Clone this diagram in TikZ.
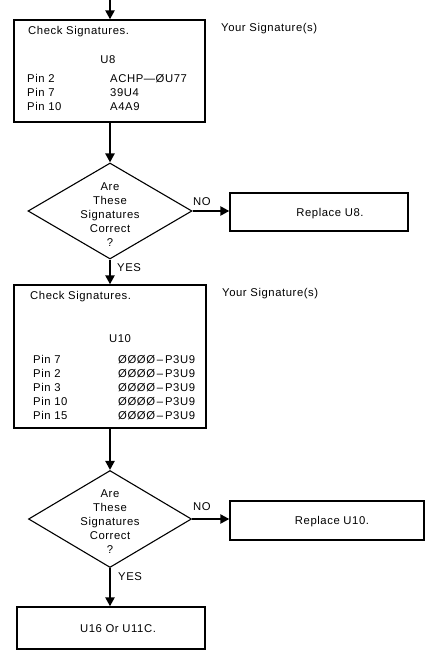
\documentclass[tikz,border=0pt]{standalone}
\usepackage{fontspec}
\setmainfont{Liberation Sans}[LetterSpace=5]
\usetikzlibrary{shapes.geometric,arrows.meta}
\begin{document}
\begin{tikzpicture}[x=1pt,y=-1pt,
  every node/.style={font=\fontsize{11.3}{14}\selectfont, inner sep=0pt},
  boxnode/.style={draw, line width=1.3pt, rectangle},
  decision/.style={draw, line width=1.1pt, shape=diamond, inner sep=0pt},
  txt/.style={anchor=base west},
  ctxt/.style={anchor=base},
  flow/.style={line width=2.2pt, -{Triangle[width=9pt,length=9pt]}},
  dtext/.style={align=center, font=\fontsize{11.3}{14}\selectfont}
]
\useasboundingbox (0,0) rectangle (441,656);

% Box 1
\node[boxnode, minimum width=191pt, minimum height=102pt] (b1) at (109.5,71) {};
\node[txt] (b1t) at (28,34) {Check Signatures.};
\node[ctxt] (b1u) at (108,63) {U8};
\node[txt] (b1p1) at (27,82) {Pin 2};
\node[txt] (b1p2) at (27,96) {Pin 7};
\node[txt] (b1p3) at (27,110) {Pin 10};
\node[txt] (b1v1) at (110,82) {ACHP\textemdash ØU77};
\node[txt] (b1v2) at (110,96) {39U4};
\node[txt] (b1v3) at (110,110) {A4A9};
\node[txt] (ys1) at (221,31) {Your Signature(s)};

\coordinate (top) at (110,0);
\draw[flow] (top) -- (b1.north -| top);

% Diamond 1
\node[decision, minimum width=164pt, minimum height=96pt] (d1) at (110,211) {};
\node[dtext] (d1t) at (110,215) {Are\\These\\Signatures\\Correct\\?};
\draw[flow] (b1.south -| d1.north) -- (d1.north);

% Replace U8
\node[boxnode, minimum width=178pt, minimum height=38pt] (r1) at (319,212) {};
\node[ctxt] (r1t) at (330,216) {Replace U8.};
\draw[flow] (d1.east) -- (d1.east -| r1.west);
\node[txt] (no1) at (193,205) {NO};

% Box 2
\node[boxnode, minimum width=192pt, minimum height=143pt] (b2) at (110,356.5) {};
\draw[flow] (d1.south) -- (b2.north -| d1.south);
\node[txt] (yes1) at (117,271) {YES};
\node[txt] (b2t) at (30,299) {Check Signatures.};
\node[ctxt] (b2u) at (120,342) {U10};
\node[txt] (b2p1) at (33,363) {Pin 7};
\node[txt] (b2p2) at (33,377) {Pin 2};
\node[txt] (b2p3) at (33,391) {Pin 3};
\node[txt] (b2p4) at (33,405) {Pin 10};
\node[txt] (b2p5) at (33,419) {Pin 15};
\node[txt] (b2v1) at (118,363) {ØØØØ\,\textendash\,P3U9};
\node[txt] (b2v2) at (118,377) {ØØØØ\,\textendash\,P3U9};
\node[txt] (b2v3) at (118,391) {ØØØØ\,\textendash\,P3U9};
\node[txt] (b2v4) at (118,405) {ØØØØ\,\textendash\,P3U9};
\node[txt] (b2v5) at (118,419) {ØØØØ\,\textendash\,P3U9};
\node[txt] (ys2) at (222,296) {Your Signature(s)};

% Diamond 2
\node[decision, minimum width=163pt, minimum height=97pt] (d2) at (110,519) {};
\node[dtext] (d2t) at (110,522) {Are\\These\\Signatures\\Correct\\?};
\draw[flow] (b2.south -| d2.north) -- (d2.north);

% Replace U10
\node[boxnode, minimum width=194pt, minimum height=39pt] (r2) at (327,520.5) {};
\node[ctxt] (r2t) at (332,524) {Replace U10.};
\draw[flow] (d2.east) -- (d2.east -| r2.west);
\node[txt] (no2) at (193,510) {NO};

% Box 3
\node[boxnode, minimum width=188pt, minimum height=42pt] (b3) at (111,628) {};
\node[ctxt] (b3t) at (118,632) {U16 Or U11C.};
\draw[flow] (d2.south) -- (b3.north -| d2.south);
\node[txt] (yes2) at (118,580) {YES};
\end{tikzpicture}
\end{document}
